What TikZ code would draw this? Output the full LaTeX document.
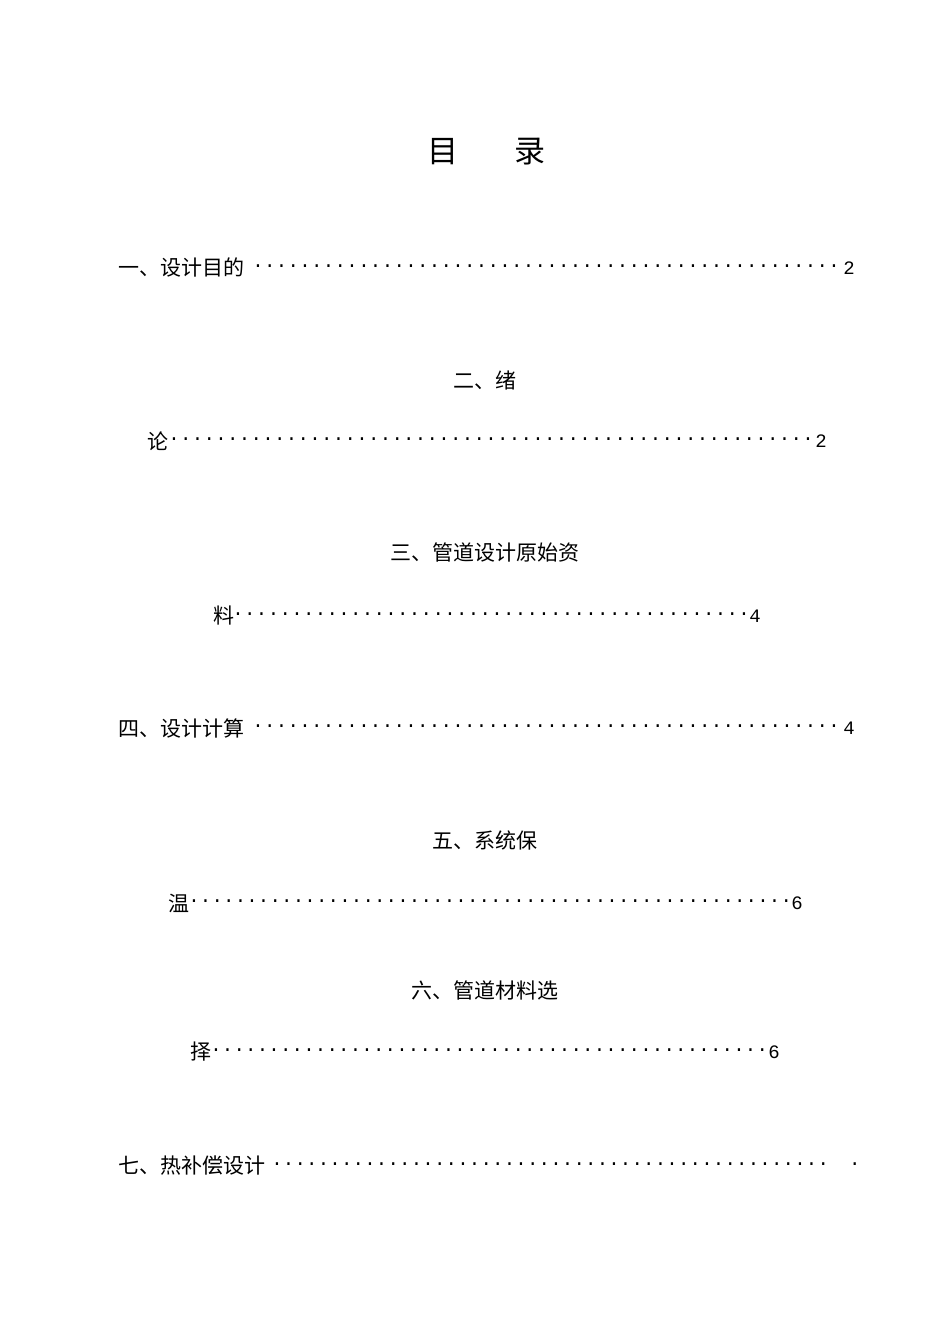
\documentclass[tikz,border=0pt]{standalone}
\usepackage{fontspec}
\newfontfamily\cjk{Noto Sans CJK SC}
\newfontfamily\mono{Liberation Mono}
\newcommand{\tocdots}[1]{\hbox to #1pt{\mono\fontsize{19}{19}\selectfont\xleaders\hbox to 11.6pt{\hss.\hss}\hfill}}
\begin{document}
\begin{tikzpicture}[x=1pt,y=-1pt,
  ch/.style={inner sep=0pt,font=\cjk\fontsize{21}{21}\selectfont},
  num/.style={inner sep=0pt,font=\mono\fontsize{19}{19}\selectfont},
  dt/.style={inner sep=0pt,anchor=west}]
\useasboundingbox (0,0) rectangle (950,1344);
\node[ch,font=\cjk\fontsize{31}{31}\selectfont] (t1) at (443,152) {目};
\node[ch,font=\cjk\fontsize{31}{31}\selectfont] (t2) at (530,152) {录};
% 1
\node[ch,anchor=west] (a) at (118,268) {一、设计目的};
\node[dt] (ad) at (252,266) {\tocdots{588}};
\node[num] (an) at (849,268) {2};
% 2
\node[ch] (b) at (485,380) {二、绪};
\node[ch,anchor=west] (b2) at (147,441) {论};
\node[dt] (bd) at (168,439) {\tocdots{646}};
\node[num] (bn) at (821,441) {2};
% 3
\node[ch] (c) at (485,553) {三、管道设计原始资};
\node[ch,anchor=west] (c2) at (213,616) {料};
\node[dt] (cd) at (232,614) {\tocdots{518}};
\node[num] (cn) at (755,616) {4};
% 4
\node[ch,anchor=west] (d) at (118,728) {四、设计计算};
\node[dt] (dd) at (252,726) {\tocdots{588}};
\node[num] (dn) at (849,728) {4};
% 5
\node[ch] (e) at (485,840) {五、系统保};
\node[ch,anchor=west] (e2) at (168,903) {温};
\node[dt] (ed) at (188,901) {\tocdots{604}};
\node[num] (en) at (797,903) {6};
% 6
\node[ch] (f) at (485,990) {六、管道材料选};
\node[ch,anchor=west] (f2) at (190,1052) {择};
\node[dt] (fd) at (210,1050) {\tocdots{558}};
\node[num] (fn) at (774,1052) {6};
% 7
\node[ch,anchor=west] (g) at (118,1166) {七、热补偿设计};
\node[dt] (gd) at (271,1164) {\tocdots{558}};
\node[dt] (ge) at (843,1164) {\tocdots{23}};
\end{tikzpicture}
\end{document}
